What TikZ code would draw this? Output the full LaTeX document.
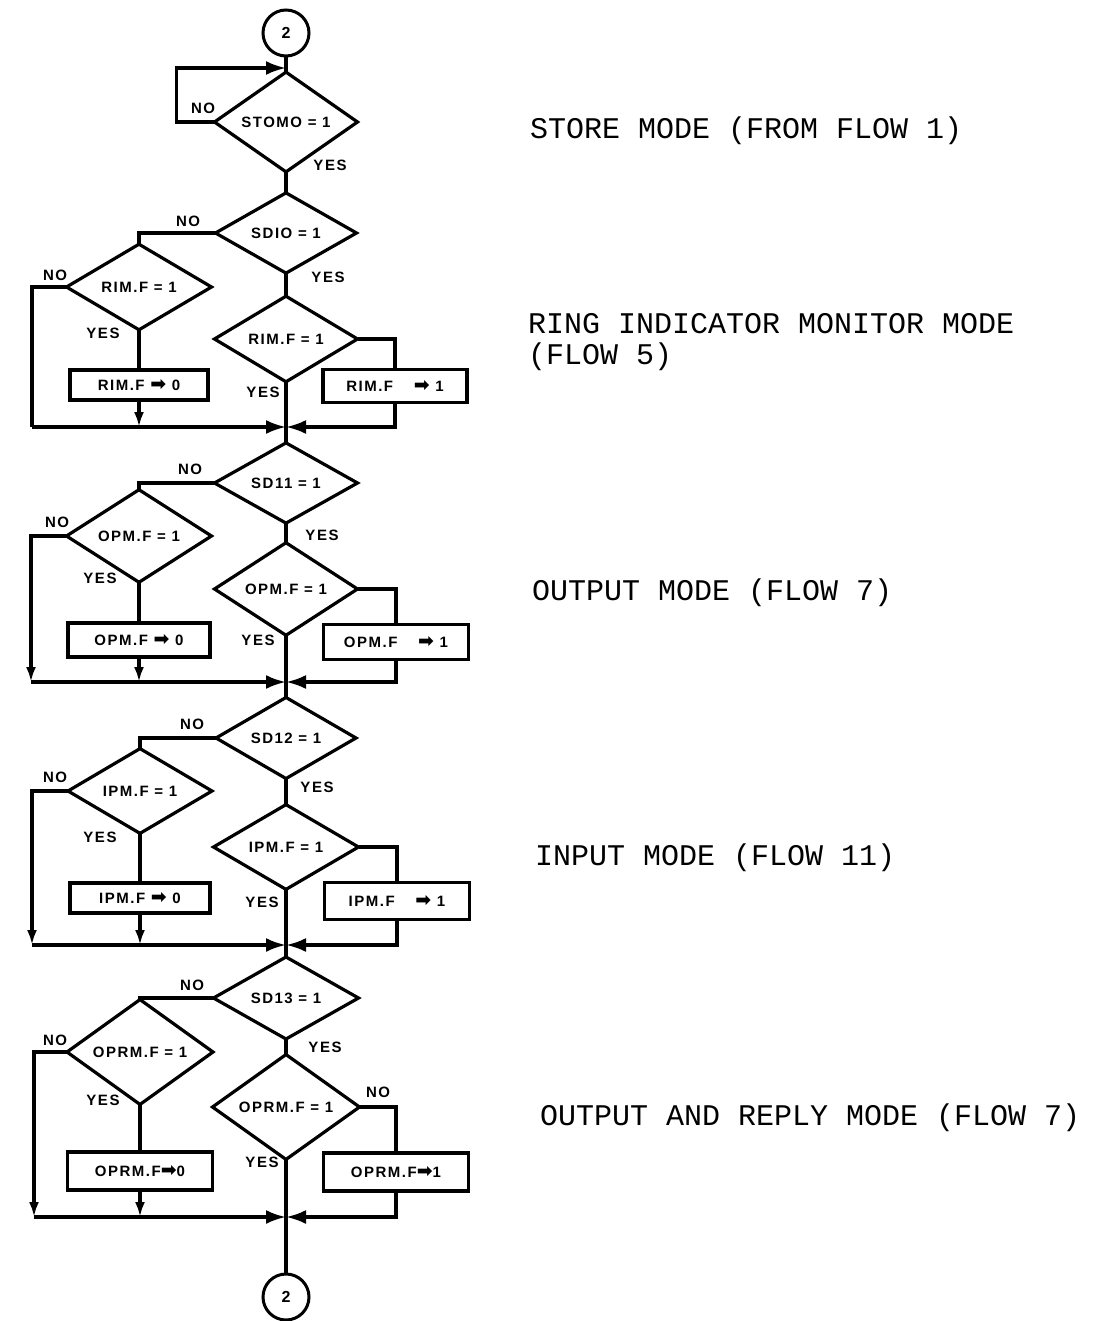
\documentclass[tikz,border=0pt]{standalone}
\usepackage{fontspec}
\setmainfont{Liberation Sans}
\newfontfamily\flowfont[LetterSpace=10]{Liberation Sans}
\newfontfamily\sidefont{Liberation Mono}
\newfontfamily\symfont{DejaVu Sans}
\usetikzlibrary{shapes.geometric,arrows.meta}
\newcommand{\arr}{{\symfont\fontsize{19}{20}\selectfont ➡}}
\tikzset{
  flow/.style={line width=3.2pt},
  dia/.style={diamond, draw, line width=3.2pt, inner sep=0pt, outer sep=0pt, minimum width=143pt, minimum height=81pt,
    font=\flowfont\bfseries\fontsize{15}{17}\selectfont},
  box/.style={rectangle, draw, line width=3.2pt, inner sep=0pt, outer sep=0pt,
    font=\flowfont\bfseries\fontsize{15}{17}\selectfont},
  conn/.style={circle, draw, line width=3pt, minimum size=46pt, inner sep=0pt, outer sep=0pt,
    font=\flowfont\bfseries\fontsize{16}{18}\selectfont},
  lbl/.style={inner sep=0pt, font=\flowfont\bfseries\fontsize{15}{17}\selectfont},
  side/.style={anchor=base west, inner sep=0pt, font=\sidefont\fontsize{30}{36}\selectfont},
  mergearr/.style={-{Latex[length=20pt,width=14pt]}},
  downarr/.style={-{Latex[length=15pt,width=10pt]}},
}
\begin{document}
\begin{tikzpicture}[x=1pt,y=-1pt]
\useasboundingbox (0,0) rectangle (1118,1321);
\fill[white] (0,0) rectangle (1118,1321);

% ---------- top ----------
\node[conn] (c1) at (286,33) {2};
\node[dia] (d0) at (286,122) {STOMO = 1};
\coordinate (j0) at (286,68);
\draw[flow] (c1) -- (d0);
\draw[flow,mergearr] (d0.west) -- ++(-38,0) |- (j0);
\node[lbl] at (203,108) {NO};
\node[lbl] at (330,165) {YES};

% ---------- section 1 ----------
\node[dia, minimum width=141pt, minimum height=80pt] (d1) at (286,233) {SDIO = 1};
\node[dia, minimum width=145pt, minimum height=82pt] (d1L) at (139,287) {RIM.F = 1};
\node[box, minimum width=138pt, minimum height=30pt] (r1L) at (139,385) {RIM.F \arr\ 0};
\node[dia] (d1R) at (286,339) {RIM.F = 1};
\node[box, minimum width=144pt, minimum height=33pt] (r1R) at (395,386) {RIM.F \quad\arr\ 1};
\coordinate (m1) at (286,427);
\coordinate (k1) at (32,427);
\draw[flow] (d0) -- (d1);
\draw[flow] (d1.west) -| (d1L.north);
\draw[flow] (d1L.west) -| (k1);
\draw[flow,mergearr] (k1) -- (m1);
\draw[flow] (d1L.south) -- (r1L.north);
\draw[flow,downarr] (r1L.south) -- (r1L.south |- m1);
\draw[flow] (d1.south) -- (d1R.north);
\draw[flow] (d1R.east) -| (r1R.north);
\draw[flow,mergearr] (r1R.south) |- (m1);
\node[lbl] at (188,221) {NO};
\node[lbl] at (55,275) {NO};
\node[lbl] at (103,333) {YES};
\node[lbl] at (328,277) {YES};
\node[lbl] at (263,392) {YES};

% ---------- section 2 ----------
\node[dia, minimum width=143pt, minimum height=80pt] (d2) at (286,483) {SD11 = 1};
\node[dia, minimum width=145pt, minimum height=81pt] (d2L) at (139,536) {OPM.F = 1};
\node[box, minimum width=142pt, minimum height=34pt] (r2L) at (139,640) {OPM.F \arr\ 0};
\node[dia, minimum width=143pt, minimum height=82pt] (d2R) at (286,589) {OPM.F = 1};
\node[box, minimum width=145pt, minimum height=35pt] (r2R) at (396,642) {OPM.F \quad\arr\ 1};
\coordinate (m2) at (286,682);
\coordinate (k2) at (31,682);
\draw[flow] (d1R) -- (d2);
\draw[flow] (d2.west) -| (d2L.north);
\draw[flow,downarr] (d2L.west) -| (k2);
\draw[flow,mergearr] (k2) -- (m2);
\draw[flow] (d2L.south) -- (r2L.north);
\draw[flow,downarr] (r2L.south) -- (r2L.south |- m2);
\draw[flow] (d2.south) -- (d2R.north);
\draw[flow] (d2R.east) -| (r2R.north);
\draw[flow,mergearr] (r2R.south) |- (m2);
\node[lbl] at (190,469) {NO};
\node[lbl] at (57,522) {NO};
\node[lbl] at (100,578) {YES};
\node[lbl] at (322,535) {YES};
\node[lbl] at (258,640) {YES};

% ---------- section 3 ----------
\node[dia, minimum width=140pt, minimum height=80pt] (d3) at (286,738) {SD12 = 1};
\node[dia, minimum width=144pt, minimum height=84pt] (d3L) at (140,791) {IPM.F = 1};
\node[box, minimum width=140pt, minimum height=30pt] (r3L) at (140,898) {IPM.F \arr\ 0};
\node[dia, minimum width=145pt, minimum height=84pt] (d3R) at (286,847) {IPM.F = 1};
\node[box, minimum width=145pt, minimum height=37pt] (r3R) at (397,901) {IPM.F \quad\arr\ 1};
\coordinate (m3) at (286,945);
\coordinate (k3) at (32,945);
\draw[flow] (d2R) -- (d3);
\draw[flow] (d3.west) -| (d3L.north);
\draw[flow,downarr] (d3L.west) -| (k3);
\draw[flow,mergearr] (k3) -- (m3);
\draw[flow] (d3L.south) -- (r3L.north);
\draw[flow,downarr] (r3L.south) -- (r3L.south |- m3);
\draw[flow] (d3.south) -- (d3R.north);
\draw[flow] (d3R.east) -| (r3R.north);
\draw[flow,mergearr] (r3R.south) |- (m3);
\node[lbl] at (192,724) {NO};
\node[lbl] at (55,777) {NO};
\node[lbl] at (100,837) {YES};
\node[lbl] at (317,787) {YES};
\node[lbl] at (262,902) {YES};

% ---------- section 4 ----------
\node[dia, minimum width=145pt, minimum height=82pt] (d4) at (286,998) {SD13 = 1};
\node[dia, minimum width=146pt, minimum height=85pt] (d4L) at (140,1052) {OPRM.F = 1};
\node[box, minimum width=145pt, minimum height=38pt] (r4L) at (140,1171) {OPRM.F\arr 0};
\node[dia, minimum width=147pt, minimum height=83pt] (d4R) at (286,1107) {OPRM.F = 1};
\node[box, minimum width=145pt, minimum height=38pt] (r4R) at (396,1172) {OPRM.F\arr 1};
\coordinate (m4) at (286,1217);
\coordinate (k4) at (34,1217);
\draw[flow] (d3R) -- (d4);
\draw[flow] (d4.west) -| (d4L.north);
\draw[flow,downarr] (d4L.west) -| (k4);
\draw[flow,mergearr] (k4) -- (m4);
\draw[flow] (d4L.south) -- (r4L.north);
\draw[flow,downarr] (r4L.south) -- (r4L.south |- m4);
\draw[flow] (d4.south) -- (d4R.north);
\draw[flow] (d4R.east) -| (r4R.north);
\draw[flow,mergearr] (r4R.south) |- (m4);
\node[lbl] at (192,985) {NO};
\node[lbl] at (55,1040) {NO};
\node[lbl] at (103,1100) {YES};
\node[lbl] at (325,1047) {YES};
\node[lbl] at (378,1092) {NO};
\node[lbl] at (262,1162) {YES};

% ---------- bottom ----------
\node[conn] (c2) at (286,1297) {2};
\draw[flow] (d4R.south) -- (c2.north);

% ---------- side notes ----------
\node[side] (t0) at (530,139) {STORE MODE (FROM FLOW 1)};
\node[side] (t1) at (528,333) {RING INDICATOR MONITOR MODE};
\node[side] (t1b) at (528,364) {(FLOW 5)};
\node[side] (t2) at (532,600) {OUTPUT MODE (FLOW 7)};
\node[side] (t3) at (535,865) {INPUT MODE (FLOW 11)};
\node[side] (t4) at (540,1125) {OUTPUT AND REPLY MODE (FLOW 7)};
\end{tikzpicture}
\end{document}
